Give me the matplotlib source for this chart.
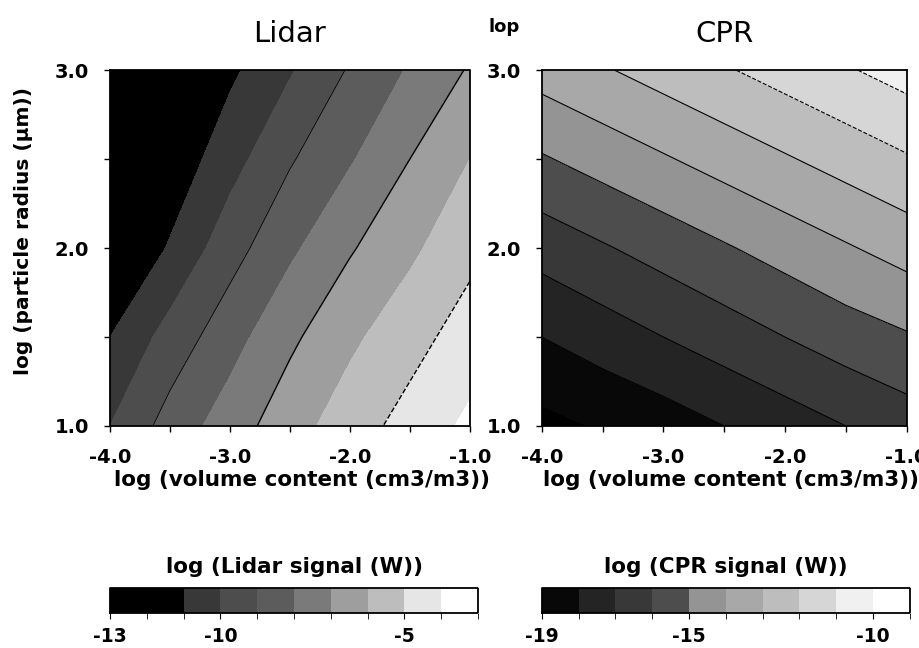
import numpy as np
import matplotlib
matplotlib.use('Agg')
import matplotlib.pyplot as plt
from matplotlib.colors import ListedColormap, BoundaryNorm
from matplotlib.cm import ScalarMappable
from matplotlib.ticker import FormatStrFormatter

plt.rcParams['font.family'] = ['DejaVu Sans']
plt.rcParams['axes.unicode_minus'] = False

# grid of the model (log volume content, log particle radius)
log_vol = [-4.0, -3.5, -3.0, -2.5, -2.0, -1.5, -1.0]
log_rad = [1.0, 1.5, 2.0, 2.5, 3.0]

# log lidar signal (W), rows = radius, cols = volume content
lidar_signal = [
    [-10.0, -8.6, -7.5, -6.4, -5.5, -4.6, -3.8],
    [-11.0, -9.6, -8.4, -7.2, -6.2, -5.4, -4.5],
    [-12.2, -10.9, -9.4, -8.2, -7.1, -6.2, -5.3],
    [-13.0, -11.7, -10.4, -9.1, -8.1, -7.0, -6.0],
    [-13.5, -12.5, -11.2, -10.1, -8.9, -7.9, -6.9],
]

# log CPR signal (W)
cpr_signal = [
    [-19.3, -18.9, -18.5, -18.0, -17.5, -17.0, -16.5],
    [-18.0, -17.5, -17.0, -16.5, -16.0, -15.5, -15.1],
    [-16.6, -16.1, -15.6, -15.1, -14.6, -14.1, -13.6],
    [-15.1, -14.6, -14.1, -13.6, -13.1, -12.6, -12.1],
    [-13.6, -13.1, -12.6, -12.1, -11.6, -11.1, -10.6],
]

lidar_levels = list(range(-13, -2))
cpr_levels = list(range(-19, -8))
lidar_lines = [-9, -7, -5]
cpr_lines = [-18, -17, -16, -15, -14, -13, -12, -11]

lidar_ticks = [-13, -10, -5]
cpr_ticks = [-19, -15, -10]

lidar_grays = [0.0, 0.0, 0.22, 0.3, 0.36, 0.48, 0.62, 0.74, 0.9, 1.0]
cpr_grays = [0.03, 0.14, 0.22, 0.3, 0.58, 0.66, 0.74, 0.84, 0.94, 1.0]


def make_cmap(grays):
    cm = ListedColormap([(g, g, g) for g in grays])
    cm.set_under('black')
    cm.set_over('white')
    return cm


def style_axes(ax, xlab_x):
    for sp in ax.spines.values():
        sp.set_linestyle((0, (1, 1)))
        sp.set_linewidth(1.3)
    ax.set_xlim(-4, -1)
    ax.set_ylim(1, 3)
    ax.set_xticks([-4, -3, -2, -1])
    ax.set_xticks([-3.5, -2.5, -1.5], minor=True)
    ax.set_yticks([1, 2, 3])
    ax.set_yticks([1.5, 2.5], minor=True)
    ax.xaxis.set_major_formatter(FormatStrFormatter('%.1f'))
    ax.yaxis.set_major_formatter(FormatStrFormatter('%.1f'))
    ax.tick_params(which='both', direction='out', length=4, width=1,
                   labelsize=14)
    ax.tick_params(axis='x', pad=12)
    ax.tick_params(axis='y', pad=11)
    for lab in ax.get_xticklabels() + ax.get_yticklabels():
        lab.set_fontweight('bold')
    ax.set_xlabel('log (volume content (cm3/m3))', fontsize=15.5,
                  fontweight='bold')
    ax.xaxis.set_label_coords(xlab_x, -0.124)


fig = plt.figure(figsize=(9.2, 6.48), dpi=100)

X, Y = np.meshgrid(log_vol, log_rad)

# Lidar
ax1 = fig.add_axes([0.1196, 0.3426, 0.391, 0.549])
cmap1 = make_cmap(lidar_grays)
ax1.contourf(X, Y, np.array(lidar_signal), levels=lidar_levels, cmap=cmap1,
             extend='both')
ax1.contour(X, Y, np.array(lidar_signal), levels=lidar_lines, colors='black',
            linewidths=[0.6, 1.0, 1.0], linestyles=['solid', 'solid', 'dashed'])
style_axes(ax1, 0.533)
ax1.set_ylabel('log (particle radius (μm))', fontsize=14.5, fontweight='bold')
ax1.yaxis.set_label_coords(-0.215, 0.548)
ax1.set_title('Lidar', fontsize=21, pad=20)

# CPR
ax2 = fig.add_axes([0.5888, 0.3426, 0.3967, 0.549])
cmap2 = make_cmap(cpr_grays)
ax2.contourf(X, Y, np.array(cpr_signal), levels=cpr_levels, cmap=cmap2,
             extend='both')
ax2.contour(X, Y, np.array(cpr_signal), levels=cpr_lines, colors='black',
            linewidths=0.8,
            linestyles=['solid'] * 6 + ['dashed', 'dashed'])
style_axes(ax2, 0.518)
ax2.set_title('CPR', fontsize=21, pad=20)

fig.text(0.548, 0.958, 'lop', fontsize=13, fontweight='bold', va='center',
         ha='center')

# colour bars
cax1 = fig.add_axes([0.1196, 0.054, 0.4, 0.0386])
cax2 = fig.add_axes([0.589, 0.054, 0.4, 0.0386])
for cax, cmap, levels, ticks, title in [
        (cax1, cmap1, lidar_levels, lidar_ticks, 'log (Lidar signal (W))'),
        (cax2, cmap2, cpr_levels, cpr_ticks, 'log (CPR signal (W))')]:
    sm = ScalarMappable(norm=BoundaryNorm(levels, cmap.N), cmap=cmap)
    cb = fig.colorbar(sm, cax=cax, orientation='horizontal')
    cb.set_ticks(ticks)
    cb.ax.set_xticks(levels, minor=True)
    cb.ax.tick_params(which='both', direction='out', length=4, labelsize=13.5,
                      pad=6)
    for lab in cb.ax.get_xticklabels():
        lab.set_fontweight('bold')
    cb.outline.set_linestyle((0, (1, 1)))
    cb.outline.set_linewidth(1.3)
    cax.set_title(title, fontsize=15.5, fontweight='bold', pad=11)

fig.savefig('out.png', dpi=100)
